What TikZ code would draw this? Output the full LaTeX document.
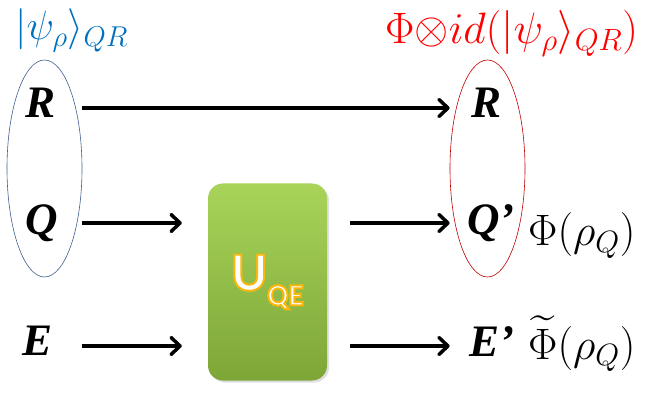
\RequirePackage{fix-cm}
\documentclass[tikz,border=0pt]{standalone}
\usepackage{amsmath,amssymb}
\usepackage[no-math]{fontspec}
\setmainfont{Liberation Serif}
\setsansfont{Carlito}
\usepackage{tikz}
\usetikzlibrary{arrows.meta,positioning,calc,shapes.geometric,shadows}
\definecolor{stateblue}{HTML}{0070C0}
\definecolor{groupblue}{HTML}{3F5F8F}
\definecolor{groupred}{HTML}{C00000}
\definecolor{gatetop}{HTML}{A8D45A}
\definecolor{gatebot}{HTML}{7DA637}
\tikzset{
  sys/.style={font=\fontsize{45}{45}\selectfont\bfseries\itshape, inner sep=0pt, anchor=base},
  mlabel/.style={font=\fontsize{44}{44}\selectfont, inner sep=0pt, anchor=base west},
  group/.style={draw, ellipse, line width=0.6pt, minimum width=75pt, minimum height=217pt, inner sep=0pt},
  gate/.style={rounded corners=15pt, top color=gatetop, bottom color=gatebot, minimum width=119pt, minimum height=197pt, inner sep=0pt, text=white, font=\sffamily\bfseries, drop shadow={opacity=0.25, shadow xshift=2pt, shadow yshift=-2pt}},
  arrow/.style={-{Straight Barb[length=9pt,width=17pt,round]}, line width=3.5pt},
}
\newcommand{\outlined}[1]{\special{pdf:literal direct 0.98 0.72 0.05 RG 2 w 2 Tr}#1\special{pdf:literal direct 0 Tr}}

\begin{document}
\begin{tikzpicture}[x=1pt,y=-1pt]
  \useasboundingbox (0,0) rectangle (654,393);

  % INPUT SYSTEMS
  \node[group, draw=groupblue] (grpQR) at (44.5,168.5) {};
  \node[sys] (R) at (41,118) {R};
  \node[sys] (Q) at (42,235) {Q};
  \node[sys] (E) at (38,355) {E};
  \node[mlabel, text=stateblue, font=\fontsize{41}{41}\selectfont] (psi) at (15,40) {$|\psi_\rho\rangle_{QR}$};

  % UNITARY
  \node[gate] (U) at (267.5,282) {\outlined{{\fontsize{55}{55}\selectfont U}\raisebox{-15pt}{\fontsize{31}{31}\selectfont QE}}};

  % OUTPUT SYSTEMS
  \node[group, draw=groupred] (outQR) at (487.5,168.5) {};
  \node[sys] (Rp) at (487,118) {R};
  \node[sys] (Qp) at (491,234) {Q’};
  \node[sys] (Ep) at (492,356) {E’};
  \node[mlabel, text=red] (chan) at (385,44) {$\Phi{\otimes}id(|\psi_\rho\rangle_{QR})$};
  \node[mlabel] (phiQ) at (528,246) {$\Phi(\rho_Q)$};
  \node[mlabel] (phiE) at (528,359) {$\widetilde{\Phi}(\rho_Q)$};

  % ARROWS
  \draw[arrow] ([yshift=10pt]R.base -| grpQR.east) -- ([yshift=10pt]R.base -| outQR.west);
  \draw[arrow, shorten >=26pt] ([yshift=12pt]Q.base -| grpQR.east) -- ([yshift=12pt]Q.base -| U.west);
  \draw[arrow, shorten >=26pt] ([yshift=9pt]E.base -| grpQR.east) -- ([yshift=9pt]E.base -| U.west);
  \draw[arrow, shorten <=23pt] ([yshift=11pt]Qp.base -| U.east) -- ([yshift=11pt]Qp.base -| outQR.west);
  \draw[arrow, shorten <=23pt] ([yshift=10pt]Ep.base -| U.east) -- ([yshift=10pt]Ep.base -| outQR.west);
\end{tikzpicture}
\end{document}
